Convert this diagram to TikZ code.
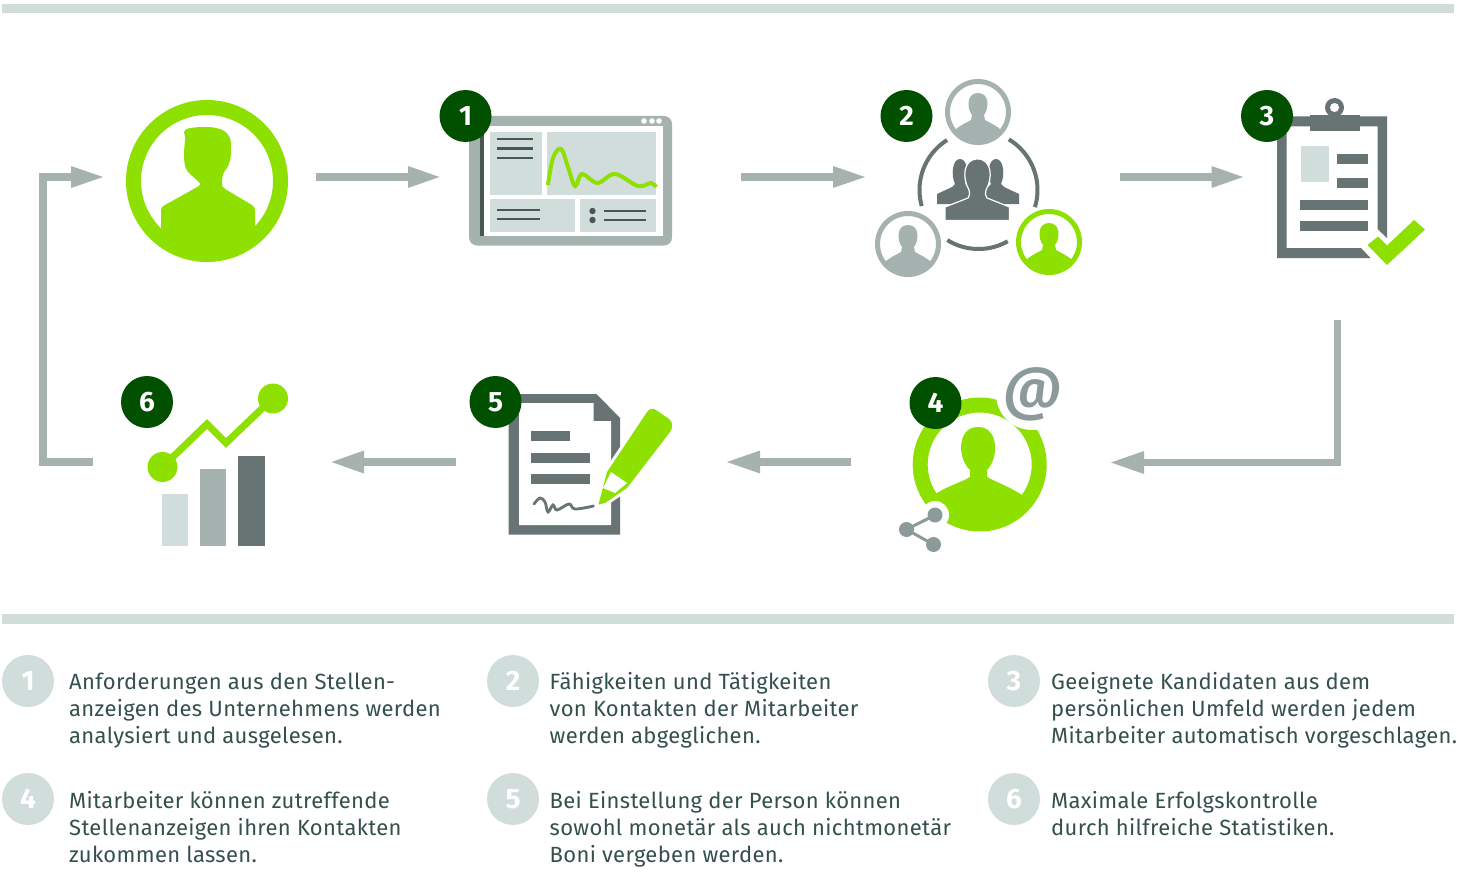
\documentclass[tikz,border=0pt]{standalone}
\usepackage{fontspec}
\setmainfont[LetterSpace=1.5]{Fira Sans}
\newfontfamily\badgefont{Fira Sans}
\newfontfamily\atfont{Fira Sans Medium}
\definecolor{cgreen}{HTML}{8EE000}
\definecolor{cdark}{HTML}{005000}
\definecolor{cgray}{HTML}{A6B2B0}
\definecolor{cslate}{HTML}{677473}
\definecolor{clight}{HTML}{D1DDDA}
\definecolor{ctext}{HTML}{34504D}
\definecolor{cline}{HTML}{4A5654}
\definecolor{cmid}{HTML}{8C9A9A}
\tikzset{
  badge/.style={circle,fill=cdark,minimum size=52pt,inner sep=0pt,text=white,font=\badgefont\bfseries\fontsize{28}{28}\selectfont},
  legendbadge/.style={circle,fill=clight,minimum size=52pt,inner sep=0pt,text=white,font=\badgefont\bfseries\fontsize{28}{28}\selectfont},
  legendtext/.style={anchor=base west,inner sep=0pt,text=ctext,font=\fontsize{22}{22}\selectfont},
  shaft/.style={draw=cgray,line width=7.5pt},
  tiphead/.style={fill=cgray},
  panel/.style={fill=clight},
  thinline/.style={draw=cline,line width=2.4pt},
  rule/.style={fill=clight},
  arcline/.style={draw=cslate,line width=4pt},
}
% small person icon: centre x, y, colour
\newcommand{\smallperson}[3]{%
  \begin{scope}[shift={(#1,#2)}]
    \fill[white] (0,0) circle[radius=33];
    \draw[#3,line width=5pt] (0,0) circle[radius=30.5];
    \begin{scope}
      \clip (0,0) circle[radius=30.5];
      \fill[#3] (-40,40) -- (-24,19) .. controls (-18,13) and (-12,11) .. (-7,8)
        -- (-6,3) .. controls (-11,-3) and (-12,-19) .. (0,-19)
        .. controls (12,-19) and (11,-3) .. (6,3) -- (7,8)
        .. controls (12,11) and (18,13) .. (24,19) -- (40,40) -- cycle;
    \end{scope}
  \end{scope}}
\begin{document}
\begin{tikzpicture}[x=1pt,y=-1pt]
\useasboundingbox (0,0) rectangle (1457,872);
\fill[white] (0,0) rectangle (1457,872);
% rules
\fill[rule] (2,4) rectangle (1454,13);
\fill[rule] (2,614) rectangle (1454,624);

% connectors
\draw[shaft] (93,462) -- (43,462) -- (43,177) -- (75,177);
\fill[tiphead] (71,166) -- (103,177) -- (71,188) -- cycle;
\draw[shaft] (315.5,177) -- (410,177);
\fill[tiphead] (408,166) -- (439.5,177) -- (408,188) -- cycle;
\draw[shaft] (741,177) -- (836,177);
\fill[tiphead] (833,166) -- (865,177) -- (833,188) -- cycle;
\draw[shaft] (1119.5,177) -- (1214,177);
\fill[tiphead] (1211.5,166) -- (1243,177) -- (1211.5,188) -- cycle;
\draw[shaft] (1337.5,320) -- (1337.5,462.5) -- (1140,462.5);
\fill[tiphead] (1144,451) -- (1111,462.5) -- (1144,474) -- cycle;
\draw[shaft] (851,462) -- (757,462);
\fill[tiphead] (760,450.5) -- (727,462) -- (760,473.5) -- cycle;
\draw[shaft] (455.5,462) -- (361,462);
\fill[tiphead] (364,450.5) -- (331.5,462) -- (364,473.5) -- cycle;

% main person
\draw[cgreen,line width=15pt] (207,181) circle[radius=73.5];
\begin{scope}
  \clip (207,181) circle[radius=74];
  \fill[cgreen] (161,265) -- (161,210) .. controls (161,207) and (163,206) .. (165,205)
    -- (199,186) .. controls (201,185) and (200,183) .. (199,182)
    -- (190,174) .. controls (184,169) and (184,160) .. (184,152)
    -- (185,140) .. controls (186,136) and (184,135) .. (184,132)
    .. controls (184,128) and (195,127) .. (205,127)
    .. controls (222,127) and (231,132) .. (231,145)
    .. controls (231,155) and (231,162) .. (227,168)
    .. controls (223,172) and (222,176) .. (222,186)
    -- (225,189) -- (252,205) .. controls (254,206) and (255,208) .. (255,212)
    -- (256,265) -- cycle;
\end{scope}

% tablet
\fill[cgray,rounded corners=8pt] (469,116) rectangle (672,245.5);
\fill[white] (480,126) rectangle (662.5,235.5);
\fill[cline] (480,133) rectangle (484,235.5);
\fill[panel] (490,132) rectangle (542,195);
\fill[panel] (547,132) rectangle (656,195);
\fill[panel] (490,199) rectangle (575,232);
\fill[panel] (580,199) rectangle (656,232);
\foreach \yy in {139,148.5,158} \draw[thinline] (497,\yy) -- (533,\yy);
\foreach \yy in {210,219} \draw[thinline] (497,\yy) -- (540,\yy);
\foreach \yy in {211,220} {\draw[thinline] (604,\yy) -- (646,\yy); \fill[cline] (592.5,\yy) circle[radius=3.2];}
\foreach \xx in {644,652,659} \fill[white] (\xx,121) circle[radius=2.8];
\draw[cgreen,line width=4pt] plot[smooth,tension=0.6] coordinates {(548,185) (553,158) (561,149) (568,167) (575,186) (582,174) (597.5,183) (615,174) (638,186) (651,183) (656,187)};

% people group
\smallperson{978}{112}{cgray}
\smallperson{908}{244}{cgray}
\smallperson{1049}{242}{cgreen}
\draw[arcline] plot[domain=164.2:237.8,samples=30] ({978.5+59*cos(\x)},{190+59*sin(\x)});
\draw[arcline] plot[domain=-59.1:16.9,samples=30] ({978.5+59*cos(\x)},{190+59*sin(\x)});
\draw[arcline] plot[domain=60.3:121.9,samples=30] ({978.5+59*cos(\x)},{190+59*sin(\x)});
% side figures
\foreach \cx/\sx in {960/1,996/-1} {
  \begin{scope}[shift={(\cx,0)},x=\sx pt]
    \fill[cslate] (-23,204) -- (-23,194) -- (-8,187) -- (-5,184)
      .. controls (-9,176) and (-8,159) .. (0,159)
      .. controls (8,159) and (9,176) .. (5,184) -- (8,187) -- (23,194) -- (23,204) -- cycle;
  \end{scope}}
% front figure
\fill[cslate,draw=white,line width=1.2pt] (945,220.5) -- (945,207) -- (968,198) .. controls (970,196) and (970,193) .. (969,190)
  .. controls (962,178) and (963,159) .. (977.5,159)
  .. controls (992,159) and (993,178) .. (986,190)
  .. controls (985,193) and (985,196) .. (987,198) -- (1009.5,207) -- (1009.5,220.5) -- cycle;

% clipboard
\fill[cslate] (1277,116.5) -- (1387,116.5) -- (1387,238) -- (1377.5,229) -- (1377.5,126.5)
  -- (1286.5,126.5) -- (1286.5,248) -- (1361,248) -- (1370.5,258) -- (1277,258) -- cycle;
\fill[cslate] (1334.5,107.5) circle[radius=9.5];
\fill[white] (1334.5,107.5) circle[radius=4.5];
\fill[cslate] (1310,115) rectangle (1359.5,131.5);
\fill[panel] (1300.5,146) rectangle (1329,182);
\fill[cslate] (1337,154.5) rectangle (1367.5,164.5);
\fill[cslate] (1337,178) rectangle (1367.5,188);
\fill[cslate] (1299.5,200) rectangle (1367.5,209.5);
\fill[cslate] (1299.5,221) rectangle (1367.5,231);
\fill[cgreen] (1367.5,245) -- (1387,265) -- (1425,229.5) -- (1414,220) -- (1387,245.5) -- (1378,236.5) -- cycle;

% chart
\fill[panel] (161.5,494) rectangle (188,546);
\fill[cgray] (200,469) rectangle (226,546);
\fill[cslate] (238,456) rectangle (264.5,546);
\draw[cgreen,line width=7pt,line join=miter] (162.5,467) -- (207,424) -- (226,443) -- (273,398);
\fill[cgreen] (162.5,467) circle[radius=15];
\fill[cgreen] (273,398.5) circle[radius=15];

% document
\fill[cslate] (508.5,394) -- (596.5,394) -- (620,418) -- (620,534.5) -- (508.5,534.5) -- cycle;
\fill[white] (519,403) -- (593.5,403) -- (593.5,421) -- (611,421) -- (611,525) -- (519,525) -- cycle;
\fill[cslate] (530.5,431) rectangle (569.5,441);
\fill[cslate] (530.5,452.5) rectangle (590,462.5);
\fill[cslate] (530.5,474) rectangle (590,484);
\draw[cslate,line width=2.8pt,line cap=round] plot[smooth,tension=0.6] coordinates {(534,504) (540,498) (545,502) (548,512) (553,505) (557,510) (569,504) (575,509) (593.5,506)};
% pencil
\path[fill=cgreen,draw=white,line width=6pt] (598.5,504.5) -- (607,472) -- (647,412) .. controls (650,408) and (653,408) .. (656,410)
  -- (669,419) .. controls (673,422) and (673,428) .. (670,432) -- (627,488) -- (605,503) -- cycle;
\fill[cgreen] (598.5,504.5) -- (607,472) -- (647,412) .. controls (650,408) and (653,408) .. (656,410)
  -- (669,419) .. controls (673,422) and (673,428) .. (670,432) -- (627,488) -- (605,503) -- cycle;
\fill[white] (611,472) -- (627,483) -- (615,493) -- (603,488) -- cycle;

% person 4
\draw[cgreen,line width=15pt] (979.7,464.5) circle[radius=59.5];
\begin{scope}
  \clip (979.7,464.5) circle[radius=60];
  \fill[cgreen] (925,540) -- (925,500) -- (937,493) .. controls (950,485) and (962,482) .. (970,477)
    -- (970,470) .. controls (957,458) and (957,427) .. (978,427)
    .. controls (999,427) and (999,458) .. (987,470) -- (987,477)
    .. controls (996,482) and (1010,487) .. (1022,495) -- (1040,510) -- (1040,540) -- cycle;
\end{scope}
\fill[white] (1032,394) circle[radius=36];
\node[inner sep=0pt,text=cmid,font=\atfont\fontsize{58}{58}\selectfont,xslant=0.12] (at) at (1033,394) {@};
\fill[white] (935,515) circle[radius=14];
\draw[cmid,line width=3pt] (935,515) -- (906.5,529.5) -- (933.5,544.5);
\fill[cmid] (935,515) circle[radius=7.5];
\fill[cmid] (906.5,529.5) circle[radius=7.5];
\fill[cmid] (933.5,544.5) circle[radius=7.5];

% badges
\node[badge] (b1) at (465.5,116) {1};
\node[badge] (b2) at (906.5,116) {2};
\node[badge] (b3) at (1267,116) {3};
\node[badge] (b4) at (935.5,403) {4};
\node[badge] (b5) at (495.5,402) {5};
\node[badge] (b6) at (147,402) {6};

% legend
\node[legendbadge] (l1) at (28,681) {1};
\node[legendbadge] (l2) at (513,681) {2};
\node[legendbadge] (l3) at (1014,681) {3};
\node[legendbadge] (l4) at (28,799) {4};
\node[legendbadge] (l5) at (513,799) {5};
\node[legendbadge] (l6) at (1014,799) {6};

\node[legendtext] (t11) at (69,689) {Anforderungen aus den Stellen-};
\node[legendtext] (t12) at (69,716) {anzeigen des Unternehmens werden};
\node[legendtext] (t13) at (69,743) {analysiert und ausgelesen.};
\node[legendtext] (t21) at (549.5,689) {Fähigkeiten und Tätigkeiten};
\node[legendtext] (t22) at (549.5,716) {von Kontakten der Mitarbeiter};
\node[legendtext] (t23) at (549.5,743) {werden abgeglichen.};
\node[legendtext] (t31) at (1051,689) {Geeignete Kandidaten aus dem};
\node[legendtext] (t32) at (1051,716) {persönlichen Umfeld werden jedem};
\node[legendtext] (t33) at (1051,743) {Mitarbeiter automatisch vorgeschlagen.};
\node[legendtext] (t41) at (69,808) {Mitarbeiter können zutreffende};
\node[legendtext] (t42) at (69,835) {Stellenanzeigen ihren Kontakten};
\node[legendtext] (t43) at (69,862) {zukommen lassen.};
\node[legendtext] (t51) at (549.5,808) {Bei Einstellung der Person können};
\node[legendtext] (t52) at (549.5,835) {sowohl monetär als auch nichtmonetär};
\node[legendtext] (t53) at (549.5,862) {Boni vergeben werden.};
\node[legendtext] (t61) at (1051,808) {Maximale Erfolgskontrolle};
\node[legendtext] (t62) at (1051,835) {durch hilfreiche Statistiken.};
\end{tikzpicture}
\end{document}
